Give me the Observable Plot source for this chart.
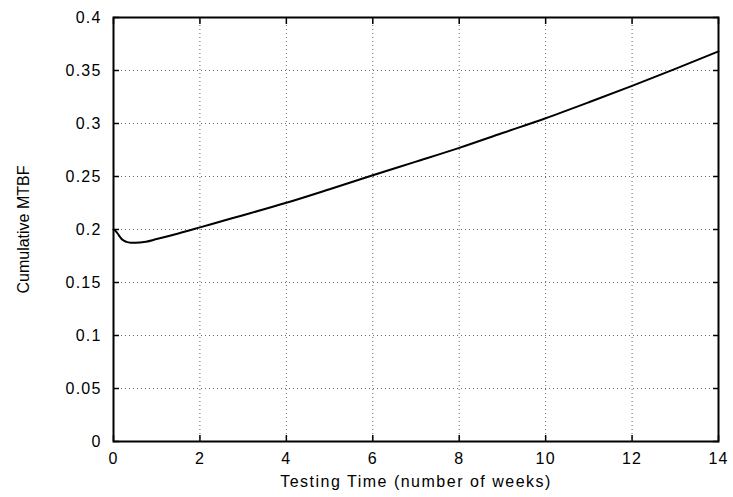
<!DOCTYPE html>
<html><head><meta charset="utf-8">
<script src="https://cdn.jsdelivr.net/npm/d3@7"></script>
<script src="https://cdn.jsdelivr.net/npm/@observablehq/plot@0.6"></script>
<style>body{margin:0;background:#fff;} svg{font-family:"Liberation Sans",Arial,sans-serif;}</style>
</head><body><div id="chart"></div>
<script>
const weeks = [0, 0.05, 0.1, 0.15, 0.2, 0.3, 0.4, 0.5, 0.75, 1, 1.5, 2, 2.5, 3, 4, 5, 6, 7, 8, 9, 10, 11, 12, 13, 14];
const mtbf  = [0.200, 0.1985, 0.196, 0.193, 0.1905, 0.1883, 0.1876, 0.1875, 0.1885, 0.1910, 0.1963, 0.2020, 0.2078, 0.2135, 0.2252, 0.238, 0.2512, 0.264, 0.277, 0.291, 0.305, 0.320, 0.3355, 0.3515, 0.368];
const xTicks = [0, 2, 4, 6, 8, 10, 12, 14];
const yTicks = [0, 0.05, 0.1, 0.15, 0.2, 0.25, 0.3, 0.35, 0.4];
const data = weeks.map((w, i) => ({w, v: mtbf[i]}));

const chart = Plot.plot({
  width: 733, height: 497,
  marginLeft: 113, marginRight: 15, marginTop: 17, marginBottom: 56,
  style: {fontSize: "16px", fontFamily: "Liberation Sans, Arial, sans-serif", color: "black", background: "white"},
  x: {domain: [0, 14]},
  y: {domain: [0, 0.4]},
  marks: [
    Plot.gridX(xTicks, {stroke: "#444", strokeOpacity: 1, strokeWidth: 0.8, strokeDasharray: "1,3"}),
    Plot.gridY(yTicks, {stroke: "#444", strokeOpacity: 1, strokeWidth: 0.8, strokeDasharray: "1,3"}),
    Plot.axisX(xTicks, {anchor: "bottom", tickSize: 0, tickPadding: 11, label: "Testing Time (number of weeks)", labelAnchor: "center", labelArrow: "none", labelOffset: 45}),
    Plot.axisY(yTicks, {anchor: "left", tickSize: 0, tickPadding: 12, label: "Cumulative MTBF", labelAnchor: "center", labelArrow: "none", labelOffset: 96, tickFormat: d => String(d)}),
    Plot.axisX(xTicks, {anchor: "bottom", tickSize: -6, tickFormat: () => "", label: null, strokeWidth: 1.5}),
    Plot.axisX(xTicks, {anchor: "top", tickSize: -6, tickFormat: () => "", label: null, strokeWidth: 1.5}),
    Plot.axisY(yTicks, {anchor: "left", tickSize: -6, tickFormat: () => "", label: null, strokeWidth: 1.5}),
    Plot.axisY(yTicks, {anchor: "right", tickSize: -6, tickFormat: () => "", label: null, strokeWidth: 1.5}),
    Plot.frame({stroke: "black", strokeWidth: 2}),
    Plot.line(data, {x: "w", y: "v", stroke: "black", strokeWidth: 2, curve: "monotone-x"})
  ]
});
const s = d3.select(chart);
s.selectAll("g[aria-label='x-axis tick label'] text, g[aria-label='y-axis tick label'] text").style("letter-spacing", "1.2px");
s.selectAll("g[aria-label='x-axis label'] text").style("letter-spacing", "1.5px");
document.getElementById("chart").appendChild(chart);
</script></body></html>
